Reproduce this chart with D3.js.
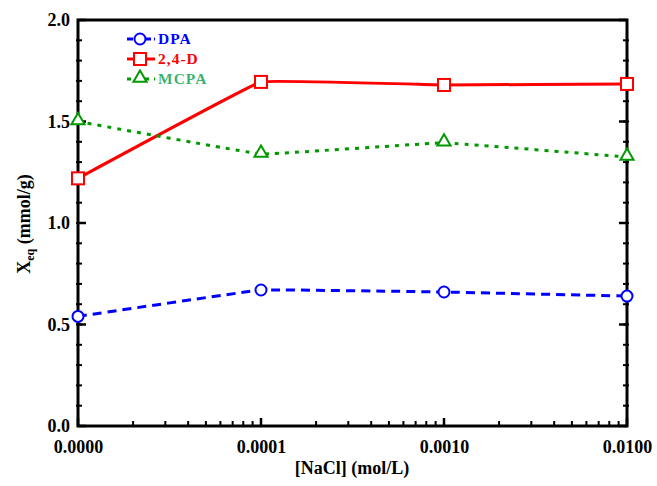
<!DOCTYPE html>
<html>
<head>
<meta charset="utf-8">
<script src="https://cdn.jsdelivr.net/npm/d3@7"></script>
<style>
  body { margin: 0; background: #fff; }
  text { font-family: "Liberation Serif", "Times New Roman", serif; font-weight: bold; }
</style>
</head>
<body>
<svg id="svg" width="657" height="486"></svg>
<script>
// NaCl concentration (first point plotted at the 1e-5 position, labelled 0.0000)
var nacl = [0.00001, 0.0001, 0.001, 0.01];
var dpa = [0.54, 0.67, 0.66, 0.64];
var d24 = [1.22, 1.695, 1.68, 1.685];
var mcpa = [1.50, 1.34, 1.395, 1.325];
var yTicks = [0.0, 0.5, 1.0, 1.5, 2.0];

var series = [
  {name: "DPA", vals: dpa, color: "#0000ff", text: "#0000ff", dash: "9,6", marker: "circle"},
  {name: "2,4-D", vals: d24, color: "#ff0000", text: "#ff0000", dash: null, marker: "square"},
  {name: "MCPA", vals: mcpa, color: "#009900", text: "#3cb371", dash: "4,6", marker: "triangle"}
];

var svg = d3.select("#svg");
var pL = 78, pR = 627, pT = 20, pB = 426;

var x = d3.scaleLog().domain([0.00001, 0.01]).range([pL, pR]);
var y = d3.scaleLinear().domain([0, 2]).range([pB, pT]);

// frame
svg.append("rect").attr("x", pL).attr("y", pT)
  .attr("width", pR - pL).attr("height", pB - pT)
  .attr("fill", "none").attr("stroke", "black").attr("stroke-width", 3);

// bottom axis (ticks inside)
var minor = [];
[0.00001, 0.0001, 0.001].forEach(function(d) {
  for (var k = 2; k <= 9; k++) minor.push(d * k);
});
var bx = svg.append("g").attr("transform", "translate(0," + pB + ")");
bx.call(d3.axisBottom(x).tickValues(nacl).tickFormat(d3.format(".4f")).tickSize(0).tickPadding(14));
bx.select(".domain").remove();
bx.selectAll("text").attr("font-size", 18).attr("font-family", "Liberation Serif");
bx.selectAll(".maj").data(nacl).enter().append("line")
  .attr("x1", function(d) { return x(d); }).attr("x2", function(d) { return x(d); })
  .attr("y1", 0).attr("y2", -8).attr("stroke", "black").attr("stroke-width", 2.5);
bx.selectAll(".min").data(minor).enter().append("line")
  .attr("x1", function(d) { return x(d); }).attr("x2", function(d) { return x(d); })
  .attr("y1", 0).attr("y2", -5).attr("stroke", "black").attr("stroke-width", 2);

// left axis
var ly = svg.append("g").attr("transform", "translate(" + pL + ",0)");
ly.call(d3.axisLeft(y).tickValues(yTicks).tickFormat(d3.format(".1f")).tickSize(0).tickPadding(8));
ly.select(".domain").remove();
ly.selectAll("text").attr("font-size", 18).attr("font-family", "Liberation Serif");
var yMinor = d3.range(1, 20).map(function(i) { return i / 10; });
[pL, pR].forEach(function(px, side) {
  var dir = side === 0 ? 1 : -1;
  svg.selectAll(null).data(yTicks).enter().append("line")
    .attr("x1", px).attr("x2", px + dir * 8)
    .attr("y1", function(d) { return y(d); }).attr("y2", function(d) { return y(d); })
    .attr("stroke", "black").attr("stroke-width", 2.5);
  svg.selectAll(null).data(yMinor).enter().append("line")
    .attr("x1", px - dir * 2).attr("x2", px + dir * 4)
    .attr("y1", function(d) { return y(d); }).attr("y2", function(d) { return y(d); })
    .attr("stroke", "black").attr("stroke-width", 2);
});

// axis titles
svg.append("text").attr("x", 352).attr("y", 474).attr("text-anchor", "middle")
  .attr("font-size", 18).text("[NaCl] (mol/L)");
var yt = svg.append("text").attr("transform", "translate(30,224) rotate(-90)")
  .attr("text-anchor", "middle").attr("font-size", 18);
yt.append("tspan").text("X");
yt.append("tspan").attr("font-size", 12).attr("dy", 4).text("eq");
yt.append("tspan").attr("dy", -4).text(" (mmol/g)");

function drawMarker(g, type, color, cx, cy) {
  if (type === "circle") {
    g.append("circle").attr("cx", cx).attr("cy", cy).attr("r", 5.5)
      .attr("fill", "white").attr("stroke", color).attr("stroke-width", 2);
  } else if (type === "square") {
    g.append("rect").attr("x", cx - 6).attr("y", cy - 6).attr("width", 12).attr("height", 12)
      .attr("fill", "white").attr("stroke", color).attr("stroke-width", 2);
  } else {
    g.append("path").attr("d", d3.symbol().type(d3.symbolTriangle).size(75)())
      .attr("transform", "translate(" + cx + "," + (cy - 1) + ")")
      .attr("fill", "white").attr("stroke", color).attr("stroke-width", 2);
  }
}

var line = d3.line().curve(d3.curveCardinal.tension(0.85))
  .x(function(d) { return x(d[0]); }).y(function(d) { return y(d[1]); });

var plot = svg.append("g");
series.forEach(function(s) {
  var pts = nacl.map(function(n, i) { return [n, s.vals[i]]; });
  plot.append("path").datum(pts).attr("d", line)
    .attr("fill", "none").attr("stroke", s.color).attr("stroke-width", 3)
    .attr("stroke-dasharray", s.dash);
  pts.forEach(function(p) { drawMarker(plot, s.marker, s.color, x(p[0]), y(p[1])); });
});

// legend
var leg = svg.append("g");
series.forEach(function(s, i) {
  var ly0 = 39 + i * 20;
  leg.append("line").attr("x1", 127).attr("x2", 155).attr("y1", ly0).attr("y2", ly0)
    .attr("stroke", s.color).attr("stroke-width", 3).attr("stroke-dasharray", s.dash ? (s.marker === "triangle" ? "4,5" : "6,3") : null);
  drawMarker(leg, s.marker, s.color, 140, ly0);
  leg.append("text").attr("x", 158).attr("y", ly0 + 5).attr("font-size", 15.5)
    .attr("letter-spacing", 1).attr("fill", s.text).text(s.name);
});
</script>
</body>
</html>
